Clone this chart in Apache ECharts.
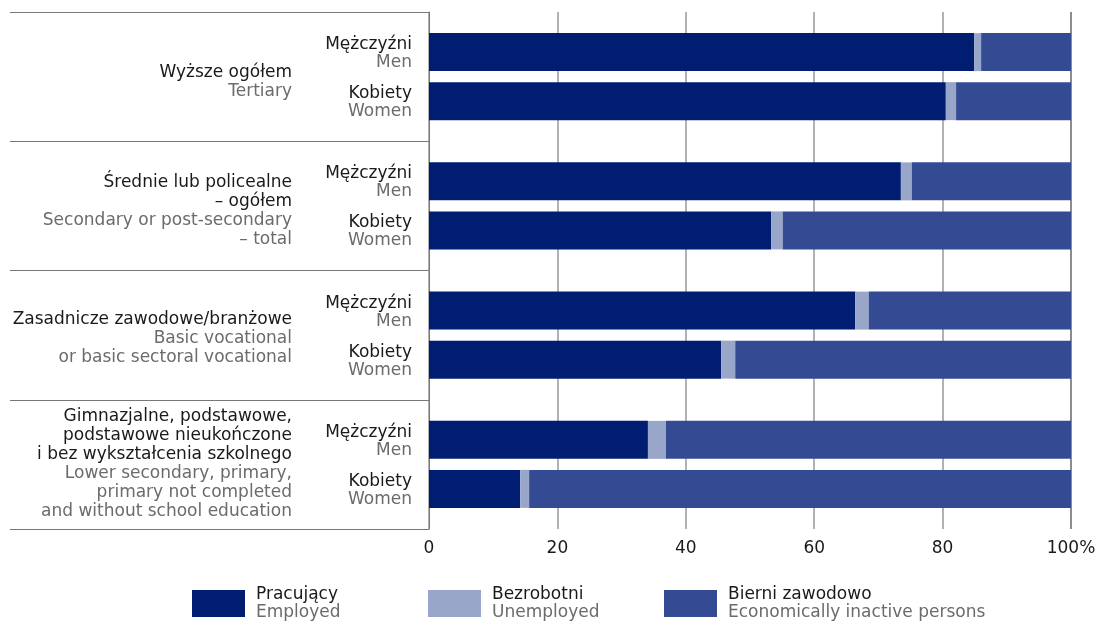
<!DOCTYPE html>
<html>
<head>
<meta charset="utf-8">
<script src="https://cdn.jsdelivr.net/npm/echarts@6/dist/echarts.min.js"></script>
<style>
html,body{margin:0;padding:0;background:#fff;}
#chart{width:1109px;height:621px;}
</style>
</head>
<body>
<div id="chart"></div>
<script>
// Groups (Polish lines / English lines)
var groupPl = [
  ['Wyższe ogółem'],
  ['Średnie lub policealne', '– ogółem'],
  ['Zasadnicze zawodowe/branżowe'],
  ['Gimnazjalne, podstawowe,', 'podstawowe nieukończone', 'i bez wykształcenia szkolnego']
];
var groupEn = [
  ['Tertiary'],
  ['Secondary or post-secondary', '– total'],
  ['Basic vocational', 'or basic sectoral vocational'],
  ['Lower secondary, primary,', 'primary not completed', 'and without school education']
];
var categories = ['g1', 'g2', 'g3', 'g4'];

var menEmployed     = [84.9, 73.5, 66.4, 34.1];
var menUnemployed   = [1.1, 1.7, 2.1, 2.8];
var menInactive     = [14.0, 24.8, 31.5, 63.1];
var womenEmployed   = [80.5, 53.3, 45.5, 14.2];
var womenUnemployed = [1.6, 1.8, 2.2, 1.4];
var womenInactive   = [17.9, 44.9, 52.3, 84.4];

var seriesNamesPl = ['Pracujący', 'Bezrobotni', 'Bierni zawodowo'];
var seriesNamesEn = ['Employed', 'Unemployed', 'Economically inactive persons'];
var sexPl = ['Mężczyźni', 'Kobiety'];
var sexEn = ['Men', 'Women'];
var xTicks = [0, 20, 40, 60, 80, 100];

// style: per-group label padding (vertical nudge)
var groupLabelPadding = [[10, 0, 0, 0], [11, 0, 0, 0], [7, 0, 0, 0], [0, 0, 1, 0]];

var FONT = 'DejaVu Sans';
var FS = 17;
var colors = ['#001d72', '#98a6c9', '#344b93'];
var txtDark = '#1a1a1a', txtGray = '#6b6b6b';

var chart = echarts.init(document.getElementById('chart'));

function sexLabel(i) {
  return {
    show: true,
    position: 'left',
    distance: 17,
    formatter: '{a|' + sexPl[i] + '}\n{b|' + sexEn[i] + '}',
    align: 'right',
    padding: [3, 0, 0, 0],
    rich: {
      a: {fontFamily: FONT, fontSize: FS, color: txtDark, lineHeight: 18, align: 'right'},
      b: {fontFamily: FONT, fontSize: FS, color: txtGray, lineHeight: 18, align: 'right'}
    }
  };
}

var dataSets = [
  [menEmployed, menUnemployed, menInactive],
  [womenEmployed, womenUnemployed, womenInactive]
];
var series = [];
for (var s = 0; s < 2; s++) {
  for (var k = 0; k < 3; k++) {
    var ser = {
      type: 'bar',
      name: seriesNamesPl[k],
      stack: 'sex' + s,
      data: dataSets[s][k],
      barWidth: 38,
      barGap: '29%',
      itemStyle: {color: colors[k]},
      emphasis: {disabled: true},
      silent: true
    };
    if (k === 0) ser.label = sexLabel(s);
    series.push(ser);
  }
}

function legendFor(k, left) {
  return {
    left: left,
    top: 581,
    data: [seriesNamesPl[k]],
    icon: 'rect',
    itemWidth: 53,
    itemHeight: 27,
    selectedMode: false,
    formatter: function () {
      return '{a|' + seriesNamesPl[k] + '}\n{b|' + seriesNamesEn[k] + '}';
    },
    textStyle: {
      padding: [0, 0, 0, 6],
      rich: {
        a: {fontFamily: FONT, fontSize: FS, color: txtDark, lineHeight: 18},
        b: {fontFamily: FONT, fontSize: FS, color: txtGray, lineHeight: 18}
      }
    }
  };
}

var option = {
  animation: false,
  backgroundColor: '#fff',
  legend: [legendFor(0, 187), legendFor(1, 423), legendFor(2, 659)],
  grid: {left: 429, right: 38, top: 12, bottom: 92, containLabel: false},
  xAxis: {
    type: 'value',
    min: 0, max: 100, interval: 20,
    axisLine: {show: false},
    axisTick: {show: false},
    splitLine: {show: true, lineStyle: {color: ['#999', '#999', '#999', '#999', '#999', '#666'], width: 1.5}},
    axisLabel: {
      margin: 11,
      fontFamily: FONT, fontSize: FS, color: txtDark,
      formatter: function (v) { return v === 100 ? '100%' : String(v); }
    }
  },
  yAxis: {
    type: 'category',
    data: categories.map(function (c, i) {
      return {value: c, textStyle: {padding: groupLabelPadding[i]}};
    }),
    inverse: true,
    axisLine: {show: true, lineStyle: {color: '#777', width: 1}},
    axisTick: {show: true, length: 419, lineStyle: {color: '#777', width: 1}},
    axisLabel: {
      margin: 137,
      align: 'right',
      formatter: function (v, i) {
        var parts = [];
        groupPl[i].forEach(function (l) { parts.push('{a|' + l + '}'); });
        groupEn[i].forEach(function (l) { parts.push('{b|' + l + '}'); });
        return parts.join('\n');
      },
      rich: {
        a: {fontFamily: FONT, fontSize: FS, color: txtDark, lineHeight: 19, align: 'right'},
        b: {fontFamily: FONT, fontSize: FS, color: txtGray, lineHeight: 19, align: 'right'}
      }
    }
  },
  series: series
};
chart.setOption(option);
</script>
</body>
</html>
